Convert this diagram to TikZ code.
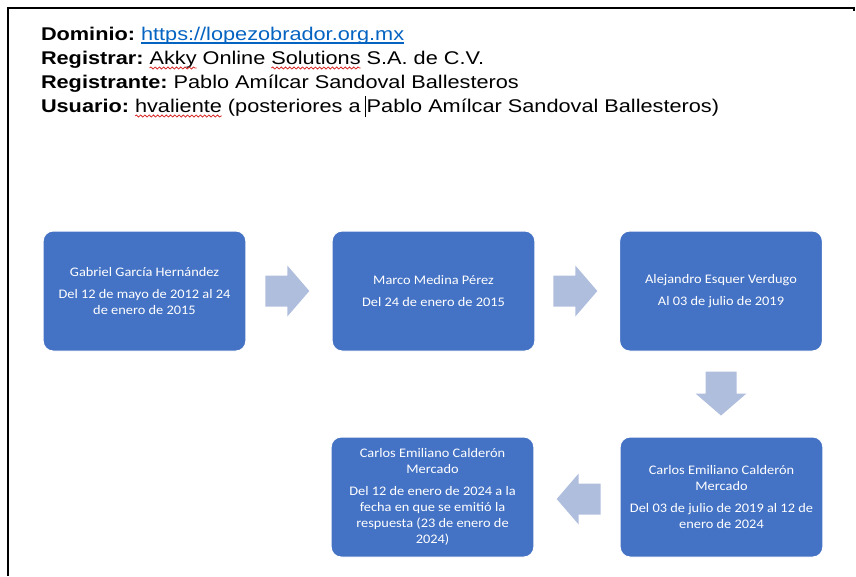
\documentclass[tikz,border=0pt]{standalone}
\usepackage{fontspec}
\setmainfont[FakeStretch=1.18]{Liberation Sans}
\newfontfamily\boxfont[FakeStretch=1.1]{Carlito}
\usetikzlibrary{calc,decorations.pathmorphing}
\definecolor{boxblue}{RGB}{68,114,196}
\definecolor{arrowblue}{RGB}{176,190,222}
\definecolor{linkblue}{RGB}{5,99,193}
\definecolor{squigred}{RGB}{215,40,40}
\newcommand\hdrfont{\fontsize{13.8}{18}\selectfont}
\tikzset{
  hd/.style={inner sep=0pt, outer sep=0pt, anchor=base west, font=\hdrfont},
  nx/.style={hd, xshift=4.5pt},
  squiggle/.style={draw=squigred, line width=0.6pt, decorate,
    decoration={snake, amplitude=0.75pt, segment length=3.2pt}},
  stepbox/.style={rectangle, rounded corners=7.5pt, fill=boxblue, draw=white,
    line width=0.75pt, minimum width=152pt, minimum height=90pt,
    text=white, align=center, inner sep=2pt,
    font=\boxfont\fontsize{9.8}{12}\selectfont},
  pics/blockarr/.style={code={
    \fill[arrowblue] (0,-15.5) -- (22,-15.5) -- (22,-25.5) -- (44,0)
      -- (22,25.5) -- (22,15.5) -- (0,15.5) -- cycle;}}
}
\begin{document}
\begin{tikzpicture}[x=0.75pt, y=-0.75pt]
\useasboundingbox (0,0) rectangle (856,576);
% frame
\draw[line width=1.5pt] (8,576) -- (8,8) -- (854,8) -- (854,11);
% header
\node[hd] (d1) at (41,40) {\textbf{Dominio:}};
\node[nx, text=linkblue] (d2) at (d1.base east) {https://lopezobrador.org.mx};
\draw[linkblue, line width=0.9pt] ([yshift=-2.2pt]d2.base west) -- ([yshift=-2.2pt]d2.base east);
\node[hd] (r1) at (41,64) {\textbf{Registrar:}};
\node[nx] (r2) at (r1.base east) {Akky};
\node[nx] (r3) at (r2.base east) {Online};
\node[nx] (r4) at (r3.base east) {Solutions};
\node[nx] (r5) at (r4.base east) {S.A. de C.V.};
\node[hd] (t1) at (41,88) {\textbf{Registrante:}};
\node[nx] (t2) at (t1.base east) {Pablo Amílcar Sandoval Ballesteros};
\node[hd] (u1) at (41,112) {\textbf{Usuario:}};
\node[nx] (u2) at (u1.base east) {hvaliente};
\node[nx] (u3) at (u2.base east) {(posteriores a};
\node[nx] (u4) at (u3.base east) {Pablo Amílcar Sandoval Ballesteros)};
\draw[squiggle] ([yshift=-3pt]r2.base west) -- ([yshift=-3pt]r2.base east);
\draw[squiggle] ([yshift=-3pt]r4.base west) -- ([yshift=-3pt]r4.base east);
\draw[squiggle] ([yshift=-3pt]u2.base west) -- ([yshift=-3pt]u2.base east);
\draw[line width=0.5pt] ([xshift=-0.8pt,yshift=-4pt]u4.base west) -- ([xshift=-0.8pt,yshift=12pt]u4.base west);
% boxes
\node[stepbox] (b1) at (144.5,291) {Gabriel García Hernández\\[4.5pt]Del 12 de mayo de 2012 al 24\\de enero de 2015};
\node[stepbox] (b2) at (433.5,291) {Marco Medina Pérez\\[4.5pt]Del 24 de enero de 2015};
\node[stepbox] (b3) at (721,291) {Alejandro Esquer Verdugo\\[4.5pt]Al 03 de julio de 2019};
\node[stepbox] (b4) at (721.5,497) {Carlos Emiliano Calderón\\Mercado\\[4.5pt]Del 03 de julio de 2019 al 12 de\\enero de 2024};
\node[stepbox] (b5) at (432.5,497) {Carlos Emiliano Calderón\\Mercado\\[4.5pt]Del 12 de enero de 2024 a la\\fecha en que se emitió la\\respuesta (23 de enero de\\2024)};
% block arrows
\coordinate (a1) at ($(b1.east)+(19,0)$);
\coordinate (a2) at ($(b2.east)+(18,0)$);
\coordinate (a3) at ($(b3.south)+(0,20)$);
\coordinate (a4) at ($(b4.west)+(-19,2)$);
\pic at (a1) {blockarr};
\pic at (a2) {blockarr};
\pic[rotate=-90] at (a3) {blockarr};
\pic[rotate=180] at (a4) {blockarr};
\end{tikzpicture}
\end{document}
